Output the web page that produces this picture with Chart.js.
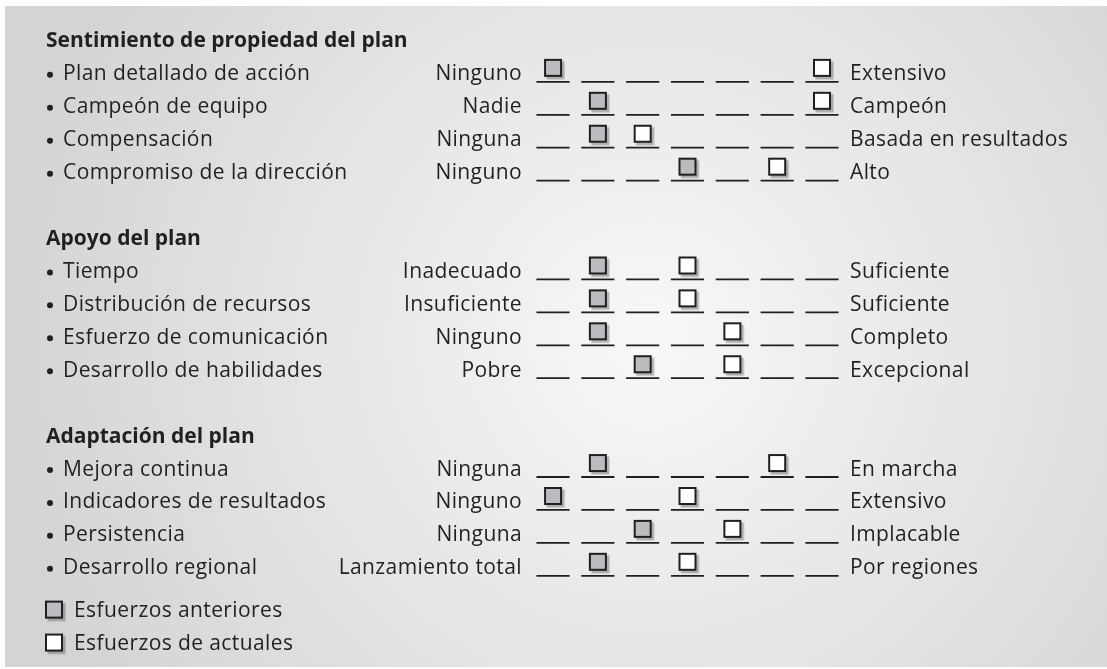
<!DOCTYPE html>
<html>
<head>
<meta charset="utf-8">
<script src="https://cdn.jsdelivr.net/npm/chart.js@4.4.1/dist/chart.umd.min.js"></script>
<style>
  html, body { margin: 0; padding: 0; background: #fff; }
</style>
</head>
<body>
<canvas id="scaleChart" width="1107" height="669"></canvas>
<script>
const groupTitles = ['Sentimiento de propiedad del plan', 'Apoyo del plan', 'Adaptación del plan'];
const factors = [
    'Plan detallado de acción', 'Campeón de equipo', 'Compensación', 'Compromiso de la dirección',
    'Tiempo', 'Distribución de recursos', 'Esfuerzo de comunicación', 'Desarrollo de habilidades',
    'Mejora continua', 'Indicadores de resultados', 'Persistencia', 'Desarrollo regional',
];
const lowAnchors = [
    'Ninguno', 'Nadie', 'Ninguna', 'Ninguno',
    'Inadecuado', 'Insuficiente', 'Ninguno', 'Pobre',
    'Ninguna', 'Ninguno', 'Ninguna', 'Lanzamiento total',
];
const highAnchors = [
    'Extensivo', 'Campeón', 'Basada en resultados', 'Alto',
    'Suficiente', 'Suficiente', 'Completo', 'Excepcional',
    'En marcha', 'Extensivo', 'Implacable', 'Por regiones',
];
const previousEfforts = [1, 2, 2, 4, 2, 2, 2, 3, 2, 1, 3, 2];
const currentEfforts = [7, 7, 3, 6, 4, 4, 5, 5, 6, 4, 5, 4];
const scaleSteps = [1, 2, 3, 4, 5, 6, 7];
const legendLabels = ['Esfuerzos anteriores', 'Esfuerzos de actuales'];

const FONT = '"Open Sans", "Noto Sans", sans-serif';
const TEXT = '#231f20';
const FONT_SIZE = 21;

// each group: title row, then four factor rows, then one blank row
const rowOf = (i) => Math.floor(i / 4) * 6 + 1 + (i % 4);
const titleRow = (g) => g * 6;
const legendRow = 17.3;

function makeBox(fill) {
    const c = document.createElement('canvas');
    c.width = 26;
    c.height = 36;
    const ctx = c.getContext('2d');
    const s = 18;
    const x0 = 4;
    const y0 = 18 - 5 - s / 2;
    ctx.fillStyle = 'rgba(95, 95, 95, 0.45)';
    ctx.fillRect(x0 + 2.5, y0 + 2.5, s, s);
    ctx.fillStyle = '#1f1f1f';
    ctx.fillRect(x0, y0, s, s);
    ctx.fillStyle = fill;
    ctx.fillRect(x0 + 2, y0 + 2, s - 4, s - 4);
    return c;
}

const prevBox = makeBox('#bbbcc0');
const currBox = makeBox('#ffffff');

const formPlugin = {
    id: 'ratingForm',
    beforeDraw(chart) {
        const { ctx, width, height } = chart;
        ctx.save();
        ctx.fillStyle = '#ffffff';
        ctx.fillRect(0, 0, width, height);
        const g = ctx.createRadialGradient(650, 340, 0, 650, 340, 650);
        g.addColorStop(0, '#f8f8f8');
        g.addColorStop(1, '#d3d4d6');
        ctx.fillStyle = g;
        ctx.fillRect(5, 6, width - 5, height - 8);
        ctx.restore();
    },
    beforeDatasetsDraw(chart) {
        const { ctx } = chart;
        const x = chart.scales.x;
        const y = chart.scales.y;
        const half = (x.getPixelForValue(2) - x.getPixelForValue(1)) * 0.37;
        ctx.save();
        ctx.fillStyle = TEXT;
        ctx.textBaseline = 'alphabetic';

        ctx.font = `bold ${FONT_SIZE}px ${FONT}`;
        ctx.letterSpacing = '0px';
        ctx.textAlign = 'left';
        groupTitles.forEach((t, g) => {
            ctx.fillText(t, 46, y.getPixelForValue(titleRow(g)) + 7.5);
        });

        ctx.font = `${FONT_SIZE}px ${FONT}`;
        ctx.letterSpacing = '0.4px';
        factors.forEach((f, i) => {
            const py = y.getPixelForValue(rowOf(i));
            ctx.beginPath();
            ctx.arc(50, py + 2, 3, 0, Math.PI * 2);
            ctx.fill();
            ctx.textAlign = 'left';
            ctx.fillText(f, 63, py + 7.5);
            ctx.textAlign = 'right';
            ctx.fillText(lowAnchors[i], x.getPixelForValue(1) - 31, py + 7.5);
            ctx.textAlign = 'left';
            ctx.fillText(highAnchors[i], x.getPixelForValue(7) + 28, py + 7.5);

            ctx.strokeStyle = '#1f1f1f';
            ctx.lineWidth = 1.8;
            scaleSteps.forEach((s) => {
                const px = x.getPixelForValue(s);
                ctx.beginPath();
                ctx.moveTo(px - half, py + 9);
                ctx.lineTo(px + half, py + 9);
                ctx.stroke();
            });
        });

        ctx.textAlign = 'left';
        legendLabels.forEach((l, k) => {
            const py = y.getPixelForValue(legendRow + k);
            ctx.drawImage(k === 0 ? prevBox : currBox, 54 - 13, py + 5 - 18);
            ctx.fillText(l, 74, py + 7.5);
        });
        ctx.restore();
    },
};

const canvas = document.getElementById('scaleChart');
new Chart(canvas.getContext('2d'), {
    type: 'scatter',
    data: {
        datasets: [
            {
                label: legendLabels[0],
                data: previousEfforts.map((v, i) => ({ x: v, y: rowOf(i) })),
                pointStyle: prevBox,
                pointRadius: 9,
                clip: false,
            },
            {
                label: legendLabels[1],
                data: currentEfforts.map((v, i) => ({ x: v, y: rowOf(i) })),
                pointStyle: currBox,
                pointRadius: 9,
                clip: false,
            },
        ],
    },
    options: {
        responsive: false,
        animation: false,
        layout: {
            padding: { left: 530.6, right: 262.6, top: 23.47, bottom: 7.47 },
        },
        plugins: {
            legend: { display: false },
            tooltip: { enabled: false },
        },
        scales: {
            x: { type: 'linear', min: 0.5, max: 7.5, display: false },
            y: { type: 'linear', min: -0.5, max: 18.8, reverse: true, display: false },
        },
    },
    plugins: [formPlugin],
});
</script>
</body>
</html>
